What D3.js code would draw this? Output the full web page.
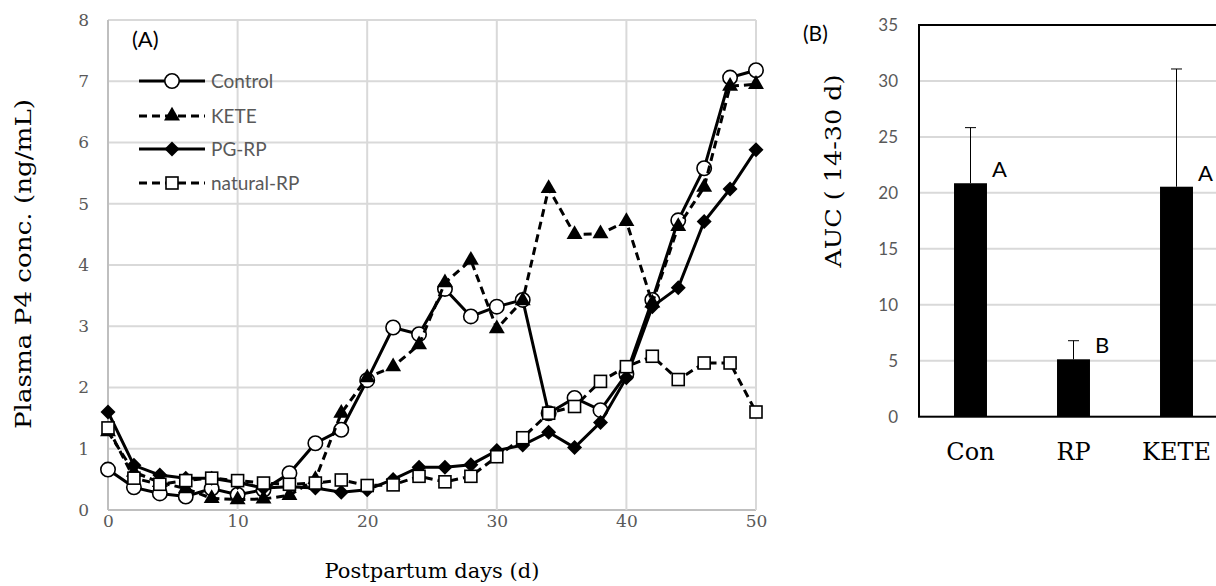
<!DOCTYPE html>
<html><head><meta charset="utf-8">
<script src="https://cdn.jsdelivr.net/npm/d3@7"></script>
<style>body{margin:0;background:#fff}svg{display:block}</style>
</head><body>
<svg id="c" width="1216" height="586"></svg>
<script>
const days = [0,2,4,6,8,10,12,14,16,18,20,22,24,26,28,30,32,34,36,38,40,42,44,46,48,50];
const control = [0.66,0.37,0.27,0.22,0.35,0.25,0.33,0.6,1.09,1.31,2.12,2.98,2.87,3.61,3.16,3.32,3.43,1.58,1.83,1.63,2.22,3.43,4.73,5.58,7.06,7.18];
const kete = [1.28,0.62,0.45,0.35,0.19,0.17,0.18,0.24,0.5,1.58,2.16,2.34,2.7,3.71,4.08,2.96,3.42,5.25,4.5,4.51,4.71,3.38,4.63,5.27,6.92,6.95];
const pgrp = [1.6,0.73,0.57,0.52,0.52,0.45,0.36,0.38,0.36,0.29,0.33,0.5,0.7,0.7,0.74,0.97,1.06,1.27,1.02,1.43,2.16,3.32,3.63,4.71,5.24,5.88];
const naturalRP = [1.34,0.52,0.42,0.48,0.52,0.48,0.44,0.42,0.44,0.49,0.4,0.41,0.55,0.46,0.55,0.87,1.18,1.58,1.69,2.1,2.34,2.51,2.13,2.4,2.4,1.6];
const seriesNames = ["Control","KETE","PG-RP","natural-RP"];
const xTicks = [0,10,20,30,40,50];
const yTicks = [0,1,2,3,4,5,6,7,8];

const barCats = ["Con","RP","KETE"];
const barVals = [20.86,5.13,20.55];
const barErr = [4.97,1.66,10.52];
const barLetters = ["A","B","A"];
const barTicks = [0,5,10,15,20,25,30,35];

const svg = d3.select("#c");
const serif = "'DejaVu Serif', serif";
const sans = "Lato, 'Open Sans', sans-serif";

// ---------- Panel A ----------
const x = d3.scaleLinear().domain([0,50]).range([108,756]);
const y = d3.scaleLinear().domain([0,8]).range([510,20]);
const gA = svg.append("g");
gA.selectAll("line.hg").data(yTicks).join("line")
  .attr("x1",x(0)).attr("x2",x(50)).attr("y1",d=>y(d)).attr("y2",d=>y(d))
  .attr("stroke",d=>d===0?"#bfbfbf":"#d9d9d9").attr("stroke-width",2);
gA.selectAll("line.vg").data(xTicks).join("line")
  .attr("y1",y(0)).attr("y2",y(8)).attr("x1",d=>x(d)).attr("x2",d=>x(d))
  .attr("stroke",d=>d===0?"#bfbfbf":"#d9d9d9").attr("stroke-width",2);

const yAx = gA.append("g").attr("transform",`translate(${x(0)},0)`)
  .call(d3.axisLeft(y).tickValues(yTicks).tickSize(0).tickPadding(19).tickFormat(d3.format("d")));
yAx.select(".domain").remove();
yAx.selectAll("text").attr("font-family",serif).attr("font-size",17).attr("fill","#595959");
const xAx = gA.append("g").attr("transform",`translate(0,${y(0)})`)
  .call(d3.axisBottom(x).tickValues(xTicks).tickSize(0).tickPadding(5).tickFormat(d3.format("d")));
xAx.select(".domain").remove();
xAx.selectAll("text").attr("font-family",serif).attr("font-size",17).attr("fill","#595959");

gA.append("text").attr("x",432).attr("y",578).attr("text-anchor","middle")
  .attr("font-family",serif).attr("font-size",21).attr("fill","#000").text("Postpartum days (d)");
gA.append("text").attr("transform","translate(31,264) rotate(-90)").attr("text-anchor","middle")
  .attr("font-family",serif).attr("font-size",22).attr("fill","#000")
  .attr("textLength",330).attr("lengthAdjust","spacingAndGlyphs").text("Plasma P4 conc. (ng/mL)");
gA.append("text").attr("x",132).attr("y",47).attr("font-family",sans).attr("font-size",22).attr("fill","#000").text("(A)");

const allSeries = [control,kete,pgrp,naturalRP];
const dashes = [null,"8,5",null,"8,5"];
const line = d3.line().x((d,i)=>x(days[i])).y(d=>y(d));

function marker(g, type, cx, cy){
  if(type===0) g.append("circle").attr("cx",cx).attr("cy",cy).attr("r",7.2).attr("fill","#fff").attr("stroke","#000").attr("stroke-width",1.6);
  else if(type===1) g.append("path").attr("d",d3.symbol(d3.symbolTriangle,110)()).attr("transform",`translate(${cx},${cy})`).attr("fill","#000");
  else if(type===2) g.append("path").attr("d","M0,-7.5L7.5,0L0,7.5L-7.5,0Z").attr("transform",`translate(${cx},${cy})`).attr("fill","#000");
  else g.append("rect").attr("x",cx-6).attr("y",cy-6).attr("width",12).attr("height",12).attr("fill","#fff").attr("stroke","#000").attr("stroke-width",1.6);
}

allSeries.forEach((s,k)=>{
  const g = gA.append("g");
  g.append("path").attr("d",line(s)).attr("fill","none").attr("stroke","#000").attr("stroke-width",3)
    .attr("stroke-dasharray",dashes[k]);
  s.forEach((v,i)=>marker(g,k,x(days[i]),y(v)));
});

// legend
const legY = [81,116,149,183];
seriesNames.forEach((n,k)=>{
  const g = gA.append("g");
  g.append("line").attr("x1",139).attr("x2",205).attr("y1",legY[k]).attr("y2",legY[k])
    .attr("stroke","#000").attr("stroke-width",3).attr("stroke-dasharray",dashes[k]);
  marker(g,k,172,legY[k]);
  g.append("text").attr("x",211).attr("y",legY[k]+6.5).attr("font-family",sans).attr("font-size",19).attr("fill","#595959").text(n);
});

// ---------- Panel B ----------
const xb = d3.scaleBand().domain(barCats).range([919,1228]).paddingInner(0.68).paddingOuter(0.34);
const yb = d3.scaleLinear().domain([0,35]).range([416.7,25]);
const gB = svg.append("g");
gB.selectAll("line.g").data(barTicks.filter(d=>d>0&&d<35)).join("line")
  .attr("x1",919).attr("x2",1228).attr("y1",d=>yb(d)).attr("y2",d=>yb(d))
  .attr("stroke","#d9d9d9").attr("stroke-width",2);
gB.append("rect").attr("x",919).attr("y",yb(35)).attr("width",309).attr("height",yb(0)-yb(35))
  .attr("fill","none").attr("stroke","#000").attr("stroke-width",2);
const ybAx = gB.append("g").attr("transform","translate(919,0)")
  .call(d3.axisLeft(yb).tickValues(barTicks).tickSize(0).tickPadding(21).tickFormat(d3.format("d")));
ybAx.select(".domain").remove();
ybAx.selectAll("text").attr("font-family",sans).attr("font-size",17).attr("fill","#595959");

gB.selectAll("rect.bar").data(barVals).join("rect")
  .attr("x",(d,i)=>xb(barCats[i])).attr("width",xb.bandwidth())
  .attr("y",d=>yb(d)).attr("height",d=>yb(0)-yb(d)).attr("fill","#000");
barVals.forEach((v,i)=>{
  const cx = xb(barCats[i])+xb.bandwidth()/2;
  gB.append("line").attr("x1",cx).attr("x2",cx).attr("y1",yb(v)).attr("y2",yb(v+barErr[i])).attr("stroke","#000").attr("stroke-width",1);
  gB.append("line").attr("x1",cx-5.5).attr("x2",cx+5.5).attr("y1",yb(v+barErr[i])).attr("y2",yb(v+barErr[i])).attr("stroke","#000").attr("stroke-width",1);
  gB.append("text").attr("x",xb(barCats[i])+xb.bandwidth()+5).attr("y",yb(v)-6)
    .attr("font-family",sans).attr("font-size",22).attr("fill","#000").text(barLetters[i]);
  gB.append("text").attr("x",cx).attr("y",460).attr("text-anchor","middle")
    .attr("font-family",serif).attr("font-size",24).attr("fill","#000").text(barCats[i]);
});
gB.append("text").attr("transform","translate(841,171) rotate(-90)").attr("text-anchor","middle")
  .attr("font-family",serif).attr("font-size",22).attr("fill","#000")
  .attr("textLength",193).attr("lengthAdjust","spacingAndGlyphs").text("AUC ( 14-30 d)");
gB.append("text").attr("x",803).attr("y",41).attr("font-family",sans).attr("font-size",21).attr("fill","#000").text("(B)");
</script>
</body></html>
